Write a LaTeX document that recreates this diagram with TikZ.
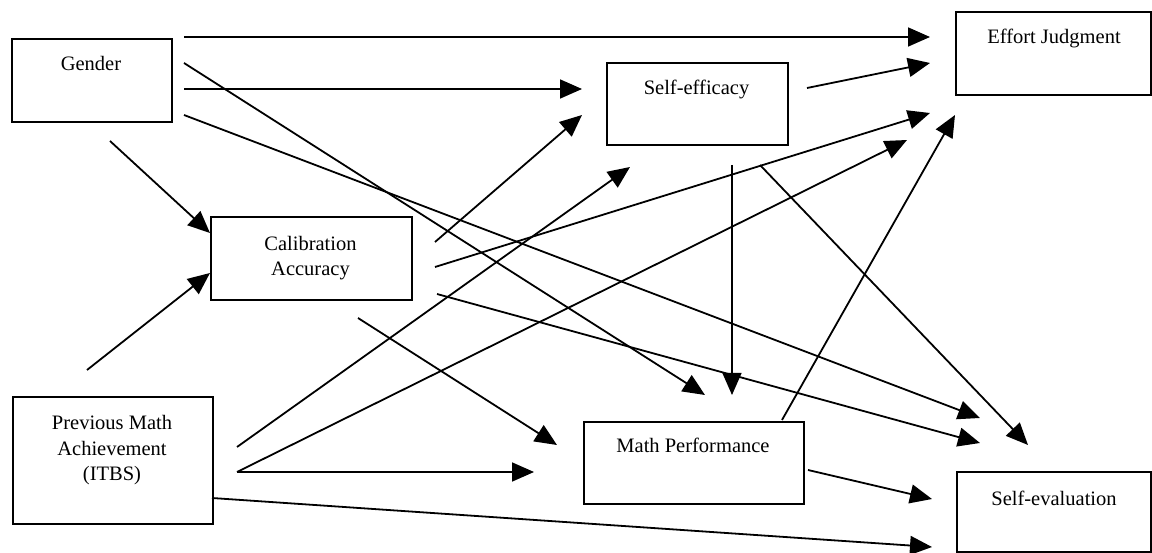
\documentclass[tikz,border=0pt]{standalone}
\usepackage{fontspec}
\setmainfont{Liberation Serif}
\usetikzlibrary{arrows.meta}
\begin{document}
\begin{tikzpicture}[x=1pt,y=-1pt,
  box/.style={draw, line width=1.8pt, inner sep=0pt, anchor=north west},
  lbl/.style={font=\fontsize{20.5pt}{25.5pt}\selectfont, align=center, inner sep=0pt},
  arr/.style={line width=1.8pt, -{Triangle[length=22pt,width=19pt]}}]
\useasboundingbox (0,0) rectangle (1152,553);
\fill[white] (0,0) rectangle (1152,553);
% boxes
\node[box, minimum width=160pt, minimum height=83pt] (gender) at (11,38) {};
\node[box, minimum width=201pt, minimum height=83pt] (calib) at (210,216) {};
\node[box, minimum width=181pt, minimum height=82pt] (selfeff) at (606,62) {};
\node[box, minimum width=195pt, minimum height=83pt] (effort) at (955,11) {};
\node[box, minimum width=200pt, minimum height=127pt] (prev) at (12,396) {};
\node[box, minimum width=220pt, minimum height=82pt] (mathperf) at (583,421) {};
\node[box, minimum width=194pt, minimum height=80pt] (selfeval) at (956,471) {};
% labels
\node[lbl, anchor=base] (tgender) at (91,71) {Gender};
\node[lbl] (tcalib) at (310.5,258) {Calibration\\Accuracy};
\node[lbl, anchor=base] (tselfeff) at (696.5,95) {Self-efficacy};
\node[lbl, anchor=base] (teffort) at (1054,44) {Effort Judgment};
\node[lbl] (tprev) at (112,450.5) {Previous Math\\Achievement\\(ITBS)};
\node[lbl, anchor=base] (tmathperf) at (693,453) {Math Performance};
\node[lbl, anchor=base] (tselfeval) at (1054,505) {Self-evaluation};
% connector end points
\coordinate (gEa) at (184,37);  \coordinate (gEb) at (930,37);
\coordinate (gSa) at (184,89);  \coordinate (gSb) at (582,89);
\coordinate (gCa) at (110,141); \coordinate (gCb) at (210,233);
\coordinate (gMa) at (184,63);  \coordinate (gMb) at (705,395);
\coordinate (gVa) at (184,115); \coordinate (gVb) at (980,418);
\coordinate (cSa) at (435,242); \coordinate (cSb) at (582,115);
\coordinate (cEa) at (435,267); \coordinate (cEb) at (930,113);
\coordinate (cVa) at (437,294); \coordinate (cVb) at (980,443);
\coordinate (cMa) at (358,318); \coordinate (cMb) at (557,445);
\coordinate (sEa) at (807,88);  \coordinate (sEb) at (930,63);
\coordinate (sMa) at (732,165); \coordinate (sMb) at (732,395);
\coordinate (sVa) at (760,165); \coordinate (sVb) at (1028,445);
\coordinate (pCa) at (87,370);  \coordinate (pCb) at (210,273);
\coordinate (pSa) at (237,447); \coordinate (pSb) at (630,167);
\coordinate (pEa) at (237,472); \coordinate (pEb) at (907,140);
\coordinate (pMa) at (237,472); \coordinate (pMb) at (534,472);
\coordinate (pVa) at (212,498); \coordinate (pVb) at (932,547);
\coordinate (mEa) at (782,420); \coordinate (mEb) at (955,115);
\coordinate (mVa) at (808,470); \coordinate (mVb) at (932,499);
% connectors
\draw[arr] (gEa) -- (gEb);
\draw[arr] (gSa) -- (gSb);
\draw[arr] (gCa) -- (gCb);
\draw[arr] (gMa) -- (gMb);
\draw[arr] (gVa) -- (gVb);
\draw[arr] (cSa) -- (cSb);
\draw[arr] (cEa) -- (cEb);
\draw[arr] (cVa) -- (cVb);
\draw[arr] (cMa) -- (cMb);
\draw[arr] (sEa) -- (sEb);
\draw[arr, line width=1.3pt] (sMa) -- (sMb);
\draw[arr] (sVa) -- (sVb);
\draw[arr] (pCa) -- (pCb);
\draw[arr] (pSa) -- (pSb);
\draw[arr] (pEa) -- (pEb);
\draw[arr] (pMa) -- (pMb);
\draw[arr] (pVa) -- (pVb);
\draw[arr] (mEa) -- (mEb);
\draw[arr] (mVa) -- (mVb);
\end{tikzpicture}
\end{document}
